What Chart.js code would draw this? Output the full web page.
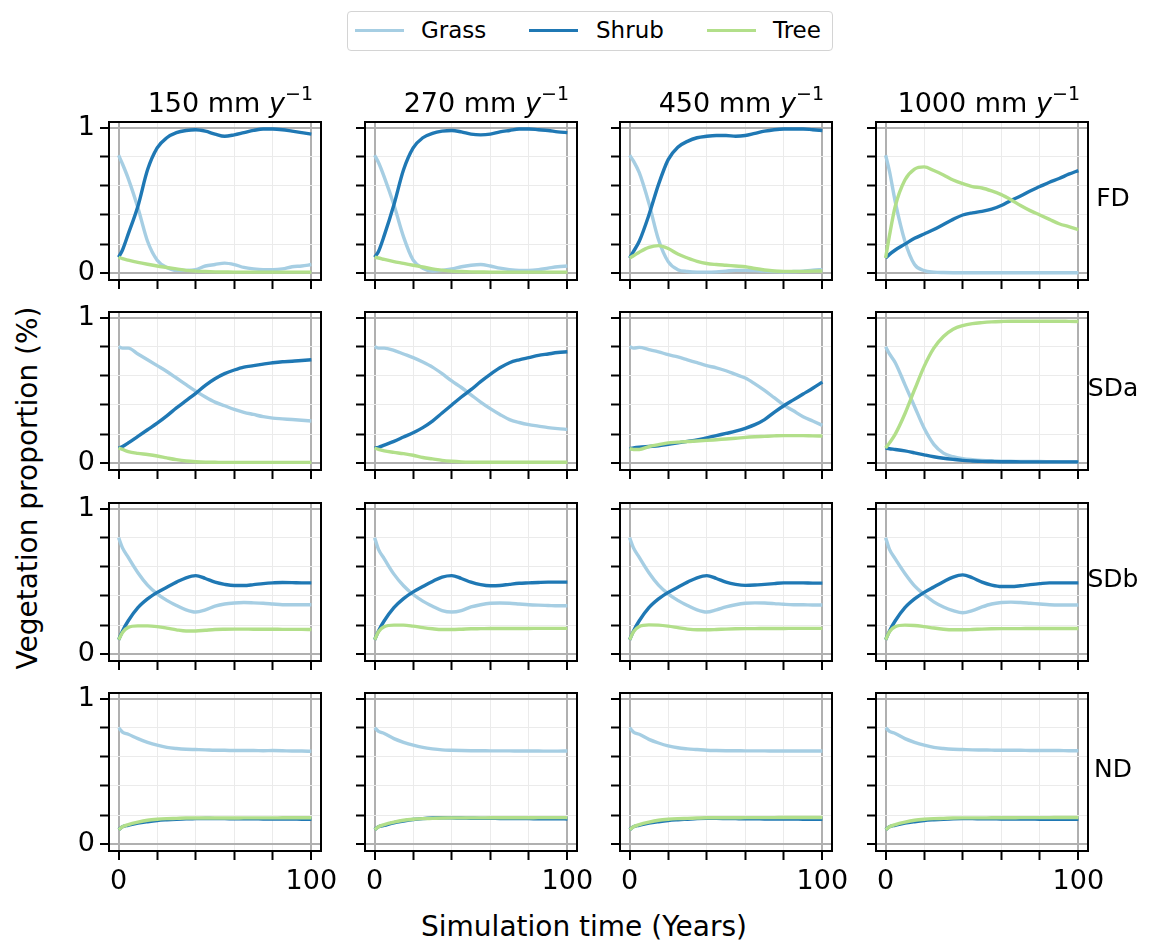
<!DOCTYPE html>
<html>
<head>
<meta charset="utf-8">
<script src="https://cdn.jsdelivr.net/npm/chart.js@4.4.0/dist/chart.umd.min.js"></script>
<style>
  body { margin: 0; background: #fff; font-family: "DejaVu Sans", sans-serif; }
  #fig { position: relative; width: 1169px; height: 944px; overflow: hidden; background: #fff; }
  #fig canvas { position: absolute; }
  .txt { position: absolute; color: #000; font-size: 27px; line-height: 27px; white-space: nowrap; }
  .axlabel { font-size: 28px; line-height: 28px; }
  .rowlab { font-size: 25px; line-height: 25px; }
  .title { text-align: right; }
  .title sup { font-size: 19px; vertical-align: 0; position: relative; top: -12px; }
  #legend { position: absolute; left: 347px; top: 11px; width: 484px; height: 38px;
            border: 1.5px solid #d4d4d4; border-radius: 4px; background: #fff; }
  .swatch { position: absolute; height: 3.5px; width: 49px; top: 16.5px; }
  .legtxt { position: absolute; top: 6px; font-size: 23px; line-height: 24px; }
</style>
</head>
<body>
<div id="fig">
  <div id="legend"></div>
  <div class="txt axlabel" style="left:28px; top:488px; transform: translate(-50%,-50%) rotate(-90deg);">Vegetation proportion (%)</div>
  <div class="txt axlabel" style="left:584px; top:927px; transform: translate(-50%,-50%);">Simulation time (Years)</div>
</div>
<script>
const years = [0, 2, 5, 10, 15, 20, 25, 30, 35, 40, 45, 50, 55, 60, 65, 70, 75, 80, 85, 90, 95, 100];
const rainfall = ['150', '270', '450', '1000'];
const scenarios = ['FD', 'SDa', 'SDb', 'ND'];
const vegTypes = ['Grass', 'Shrub', 'Tree'];
const vegColors = ['#a6cee3', '#1f78b4', '#b2df8a'];
const xTicks = [0, 20, 40, 60, 80, 100];
const yTicks = [0, 0.2, 0.4, 0.6, 0.8, 1];

// one row per rainfall level (150, 270, 450, 1000)
const grassFD = [
  [0.81, 0.75, 0.65, 0.45, 0.22, 0.09, 0.04, 0.02, 0.02, 0.025, 0.05, 0.06, 0.07, 0.06, 0.04, 0.03, 0.025, 0.025, 0.03, 0.045, 0.05, 0.06],
  [0.81, 0.76, 0.66, 0.47, 0.25, 0.09, 0.035, 0.015, 0.02, 0.03, 0.045, 0.055, 0.06, 0.05, 0.035, 0.025, 0.02, 0.02, 0.025, 0.035, 0.045, 0.05],
  [0.81, 0.77, 0.69, 0.48, 0.23, 0.08, 0.025, 0.012, 0.008, 0.008, 0.01, 0.015, 0.02, 0.02, 0.018, 0.015, 0.012, 0.01, 0.012, 0.015, 0.022, 0.025],
  [0.81, 0.70, 0.49, 0.22, 0.06, 0.018, 0.008, 0.005, 0.004, 0.004, 0.004, 0.004, 0.004, 0.004, 0.004, 0.004, 0.004, 0.004, 0.004, 0.004, 0.004, 0.004]
];
const shrubFD = [
  [0.11, 0.16, 0.27, 0.46, 0.71, 0.86, 0.93, 0.965, 0.98, 0.985, 0.975, 0.955, 0.94, 0.95, 0.965, 0.98, 0.99, 0.99, 0.985, 0.975, 0.965, 0.955],
  [0.11, 0.15, 0.26, 0.47, 0.71, 0.86, 0.93, 0.96, 0.975, 0.98, 0.97, 0.955, 0.95, 0.955, 0.97, 0.98, 0.99, 0.99, 0.985, 0.98, 0.97, 0.965],
  [0.105, 0.15, 0.22, 0.40, 0.61, 0.78, 0.865, 0.905, 0.93, 0.94, 0.945, 0.945, 0.94, 0.945, 0.96, 0.975, 0.985, 0.99, 0.99, 0.99, 0.985, 0.98],
  [0.105, 0.13, 0.16, 0.20, 0.24, 0.27, 0.30, 0.335, 0.37, 0.40, 0.415, 0.425, 0.44, 0.465, 0.50, 0.53, 0.565, 0.595, 0.625, 0.65, 0.68, 0.705]
];
const treeFD = [
  [0.11, 0.10, 0.09, 0.075, 0.062, 0.05, 0.04, 0.03, 0.02, 0.015, 0.012, 0.01, 0.009, 0.008, 0.008, 0.008, 0.008, 0.008, 0.008, 0.008, 0.008, 0.008],
  [0.11, 0.105, 0.095, 0.08, 0.068, 0.055, 0.043, 0.03, 0.022, 0.015, 0.012, 0.01, 0.009, 0.008, 0.008, 0.008, 0.008, 0.008, 0.008, 0.008, 0.008, 0.008],
  [0.105, 0.12, 0.145, 0.178, 0.19, 0.17, 0.132, 0.105, 0.082, 0.067, 0.06, 0.055, 0.05, 0.045, 0.033, 0.023, 0.016, 0.013, 0.013, 0.013, 0.015, 0.016],
  [0.105, 0.26, 0.46, 0.64, 0.715, 0.73, 0.705, 0.675, 0.64, 0.615, 0.595, 0.585, 0.565, 0.54, 0.505, 0.465, 0.43, 0.40, 0.37, 0.34, 0.32, 0.30]
];

const grassSDa = [
  [0.80, 0.79, 0.79, 0.75, 0.71, 0.67, 0.63, 0.585, 0.54, 0.495, 0.455, 0.42, 0.395, 0.37, 0.35, 0.335, 0.32, 0.31, 0.305, 0.30, 0.295, 0.29],
  [0.80, 0.79, 0.79, 0.775, 0.75, 0.725, 0.695, 0.66, 0.615, 0.565, 0.52, 0.47, 0.42, 0.375, 0.335, 0.30, 0.28, 0.265, 0.255, 0.245, 0.238, 0.233],
  [0.80, 0.79, 0.795, 0.78, 0.765, 0.745, 0.73, 0.71, 0.69, 0.67, 0.655, 0.635, 0.61, 0.585, 0.545, 0.50, 0.45, 0.40, 0.36, 0.32, 0.29, 0.26],
  [0.80, 0.75, 0.69, 0.54, 0.39, 0.24, 0.13, 0.07, 0.045, 0.032, 0.025, 0.02, 0.017, 0.015, 0.014, 0.013, 0.012, 0.012, 0.011, 0.01, 0.01, 0.01]
];
const shrubSDa = [
  [0.105, 0.115, 0.14, 0.185, 0.23, 0.275, 0.325, 0.38, 0.43, 0.48, 0.535, 0.58, 0.615, 0.64, 0.66, 0.67, 0.68, 0.69, 0.697, 0.70, 0.705, 0.71],
  [0.105, 0.11, 0.125, 0.15, 0.18, 0.21, 0.245, 0.29, 0.345, 0.40, 0.455, 0.505, 0.56, 0.61, 0.655, 0.69, 0.71, 0.725, 0.74, 0.75, 0.76, 0.765],
  [0.10, 0.105, 0.11, 0.115, 0.12, 0.13, 0.14, 0.15, 0.16, 0.175, 0.19, 0.205, 0.22, 0.24, 0.265, 0.30, 0.35, 0.395, 0.435, 0.475, 0.515, 0.557],
  [0.105, 0.10, 0.095, 0.085, 0.072, 0.058, 0.045, 0.035, 0.027, 0.02, 0.016, 0.013, 0.012, 0.011, 0.011, 0.01, 0.01, 0.01, 0.01, 0.01, 0.01, 0.01]
];
const treeSDa = [
  [0.105, 0.095, 0.08, 0.068, 0.06, 0.05, 0.037, 0.025, 0.016, 0.011, 0.008, 0.007, 0.006, 0.006, 0.006, 0.006, 0.006, 0.006, 0.006, 0.006, 0.006, 0.006],
  [0.105, 0.095, 0.085, 0.075, 0.066, 0.055, 0.04, 0.03, 0.02, 0.014, 0.01, 0.008, 0.007, 0.007, 0.007, 0.007, 0.007, 0.007, 0.007, 0.007, 0.007, 0.007],
  [0.10, 0.095, 0.095, 0.115, 0.128, 0.14, 0.145, 0.15, 0.153, 0.157, 0.162, 0.167, 0.172, 0.178, 0.182, 0.185, 0.188, 0.19, 0.19, 0.19, 0.188, 0.187],
  [0.105, 0.14, 0.20, 0.34, 0.505, 0.665, 0.79, 0.87, 0.92, 0.945, 0.958, 0.965, 0.97, 0.973, 0.975, 0.975, 0.975, 0.975, 0.975, 0.975, 0.974, 0.973]
];

const grassSDb = [
  [0.80, 0.73, 0.665, 0.56, 0.475, 0.415, 0.37, 0.335, 0.305, 0.29, 0.305, 0.33, 0.345, 0.352, 0.355, 0.353, 0.35, 0.345, 0.34, 0.34, 0.34, 0.34],
  [0.80, 0.72, 0.655, 0.55, 0.47, 0.41, 0.365, 0.33, 0.30, 0.29, 0.30, 0.325, 0.34, 0.35, 0.352, 0.35, 0.345, 0.34, 0.337, 0.335, 0.333, 0.333],
  [0.80, 0.73, 0.665, 0.56, 0.475, 0.415, 0.37, 0.335, 0.305, 0.29, 0.305, 0.325, 0.34, 0.35, 0.353, 0.352, 0.348, 0.343, 0.34, 0.34, 0.338, 0.338],
  [0.80, 0.72, 0.655, 0.555, 0.47, 0.41, 0.36, 0.325, 0.30, 0.285, 0.30, 0.325, 0.345, 0.355, 0.358, 0.355, 0.35, 0.345, 0.34, 0.338, 0.338, 0.338]
];
const shrubSDb = [
  [0.10, 0.16, 0.23, 0.32, 0.38, 0.425, 0.46, 0.495, 0.525, 0.54, 0.52, 0.495, 0.48, 0.472, 0.472, 0.478, 0.485, 0.49, 0.493, 0.492, 0.49, 0.49],
  [0.10, 0.16, 0.23, 0.32, 0.382, 0.428, 0.465, 0.50, 0.53, 0.54, 0.52, 0.495, 0.478, 0.47, 0.472, 0.48, 0.487, 0.49, 0.493, 0.495, 0.495, 0.495],
  [0.10, 0.16, 0.23, 0.32, 0.38, 0.425, 0.46, 0.495, 0.525, 0.54, 0.52, 0.495, 0.48, 0.473, 0.475, 0.48, 0.485, 0.49, 0.49, 0.49, 0.488, 0.488],
  [0.10, 0.16, 0.23, 0.32, 0.38, 0.425, 0.462, 0.498, 0.53, 0.545, 0.525, 0.495, 0.475, 0.465, 0.465, 0.47, 0.478, 0.485, 0.49, 0.49, 0.49, 0.49]
];
const treeSDb = [
  [0.10, 0.15, 0.185, 0.195, 0.195, 0.19, 0.18, 0.168, 0.16, 0.16, 0.165, 0.17, 0.172, 0.173, 0.173, 0.172, 0.172, 0.172, 0.171, 0.171, 0.171, 0.17],
  [0.10, 0.155, 0.19, 0.20, 0.2, 0.193, 0.183, 0.175, 0.17, 0.17, 0.172, 0.175, 0.176, 0.177, 0.177, 0.177, 0.177, 0.177, 0.178, 0.178, 0.178, 0.178],
  [0.10, 0.155, 0.19, 0.202, 0.2, 0.193, 0.183, 0.173, 0.168, 0.168, 0.17, 0.173, 0.175, 0.176, 0.176, 0.177, 0.177, 0.177, 0.178, 0.178, 0.178, 0.178],
  [0.10, 0.155, 0.19, 0.2, 0.198, 0.19, 0.18, 0.172, 0.168, 0.168, 0.17, 0.173, 0.175, 0.176, 0.176, 0.176, 0.177, 0.177, 0.177, 0.177, 0.177, 0.177]
];

const grassND = [
  [0.80, 0.77, 0.755, 0.725, 0.70, 0.68, 0.665, 0.657, 0.652, 0.65, 0.648, 0.645, 0.645, 0.643, 0.643, 0.643, 0.642, 0.643, 0.642, 0.64, 0.64, 0.638],
  [0.80, 0.775, 0.76, 0.725, 0.70, 0.68, 0.665, 0.655, 0.648, 0.645, 0.643, 0.642, 0.642, 0.641, 0.641, 0.641, 0.64, 0.64, 0.64, 0.639, 0.639, 0.64],
  [0.80, 0.77, 0.755, 0.72, 0.695, 0.675, 0.662, 0.655, 0.65, 0.645, 0.643, 0.642, 0.642, 0.641, 0.641, 0.641, 0.64, 0.64, 0.64, 0.64, 0.64, 0.64],
  [0.80, 0.775, 0.76, 0.725, 0.70, 0.68, 0.665, 0.657, 0.652, 0.65, 0.648, 0.647, 0.646, 0.645, 0.645, 0.645, 0.644, 0.644, 0.643, 0.643, 0.642, 0.642]
];
const shrubND = [
  [0.10, 0.12, 0.13, 0.145, 0.155, 0.163, 0.168, 0.172, 0.175, 0.176, 0.177, 0.176, 0.176, 0.175, 0.175, 0.175, 0.174, 0.174, 0.173, 0.173, 0.172, 0.172],
  [0.10, 0.12, 0.13, 0.148, 0.16, 0.17, 0.176, 0.18, 0.182, 0.181, 0.18, 0.179, 0.178, 0.178, 0.177, 0.177, 0.176, 0.176, 0.175, 0.175, 0.175, 0.174],
  [0.10, 0.12, 0.13, 0.145, 0.155, 0.163, 0.168, 0.172, 0.176, 0.178, 0.178, 0.177, 0.176, 0.175, 0.175, 0.174, 0.174, 0.173, 0.173, 0.172, 0.172, 0.172],
  [0.10, 0.12, 0.13, 0.145, 0.155, 0.163, 0.168, 0.172, 0.175, 0.176, 0.176, 0.175, 0.175, 0.174, 0.174, 0.173, 0.173, 0.172, 0.172, 0.171, 0.171, 0.171]
];
const treeND = [
  [0.10, 0.12, 0.135, 0.152, 0.165, 0.172, 0.176, 0.178, 0.18, 0.18, 0.18, 0.18, 0.18, 0.18, 0.181, 0.181, 0.181, 0.181, 0.182, 0.182, 0.182, 0.182],
  [0.10, 0.12, 0.135, 0.152, 0.165, 0.172, 0.176, 0.178, 0.18, 0.181, 0.181, 0.181, 0.181, 0.182, 0.182, 0.182, 0.182, 0.182, 0.183, 0.183, 0.183, 0.183],
  [0.10, 0.12, 0.135, 0.152, 0.165, 0.172, 0.176, 0.178, 0.18, 0.182, 0.182, 0.182, 0.182, 0.183, 0.183, 0.183, 0.183, 0.184, 0.184, 0.184, 0.184, 0.184],
  [0.10, 0.12, 0.135, 0.152, 0.165, 0.172, 0.176, 0.178, 0.18, 0.181, 0.181, 0.181, 0.182, 0.182, 0.182, 0.183, 0.183, 0.183, 0.183, 0.184, 0.184, 0.184]
];

const scenarioData = {
  FD: [grassFD, shrubFD, treeFD],
  SDa: [grassSDa, shrubSDa, treeSDa],
  SDb: [grassSDb, shrubSDb, treeSDb],
  ND: [grassND, shrubND, treeND]
};

// panel grid geometry (plot area of each subplot)
const panelLeft = [109, 365, 620, 876];
const panelTop = [122, 312, 503, 693];
const panelW = 212, panelH = 158;
const padL = 60, padT = 12, padR = 30, padB = 52;
const tickFont = { family: 'DejaVu Sans', size: 27 };

const fig = document.getElementById('fig');

// black frame round each plot area, drawn over the lines
const framePlugin = {
  id: 'frame',
  afterDatasetsDraw(chart) {
    const { ctx, chartArea: a } = chart;
    ctx.save();
    ctx.strokeStyle = '#000';
    ctx.lineWidth = 2;
    ctx.strokeRect(a.left, a.top, a.right - a.left, a.bottom - a.top);
    ctx.restore();
  }
};

function gridColor(ctx, lo, hi) {
  const v = ctx.tick.value;
  return (v === lo || v === hi) ? '#b0b0b0' : '#ebebeb';
}
function gridWidth(ctx, lo, hi) {
  const v = ctx.tick.value;
  return (v === lo || v === hi) ? 2 : 1;
}

function makePanel(row, col) {
  const canvas = document.createElement('canvas');
  const w = padL + panelW + padR, h = padT + panelH + padB;
  canvas.width = w; canvas.height = h;
  canvas.style.width = w + 'px'; canvas.style.height = h + 'px';
  canvas.style.left = (panelLeft[col] - padL) + 'px';
  canvas.style.top = (panelTop[row] - padT) + 'px';
  fig.appendChild(canvas);

  const series = scenarioData[scenarios[row]];
  const datasets = vegTypes.map((name, k) => ({
    label: name,
    data: years.map((x, i) => ({ x: x, y: series[k][col][i] })),
    borderColor: vegColors[k],
    borderWidth: 3.4,
    pointRadius: 0,
    fill: false,
    cubicInterpolationMode: 'monotone',
    order: 2 - k
  }));

  const showX = row === scenarios.length - 1;
  const showY = col === 0;

  new Chart(canvas.getContext('2d'), {
    type: 'line',
    data: { datasets: datasets },
    options: {
      responsive: false,
      animation: false,
      events: [],
      layout: { padding: { top: padT, right: padR, left: 0, bottom: 0 } },
      plugins: { legend: { display: false }, tooltip: { enabled: false } },
      scales: {
        x: {
          type: 'linear', min: -5, max: 105,
          afterBuildTicks: s => { s.ticks = xTicks.map(v => ({ value: v })); },
          afterFit: s => { s.height = padB; s.paddingLeft = 0; s.paddingRight = 0; },
          border: { display: false },
          grid: {
            color: c => gridColor(c, 0, 100),
            lineWidth: c => gridWidth(c, 0, 100),
            tickLength: 9, tickWidth: 2, tickColor: '#000'
          },
          ticks: {
            autoSkip: false, maxRotation: 0, padding: 6, color: '#000', font: tickFont,
            callback: v => (showX && (v === 0 || v === 100)) ? String(v) : ''
          }
        },
        y: {
          min: -0.046, max: 1.038,
          afterBuildTicks: s => { s.ticks = yTicks.map(v => ({ value: v })); },
          afterFit: s => { s.width = padL; s.paddingTop = 0; s.paddingBottom = 0; },
          border: { display: false },
          grid: {
            color: c => gridColor(c, 0, 1),
            lineWidth: c => gridWidth(c, 0, 1),
            tickLength: 9, tickWidth: 2, tickColor: '#000'
          },
          ticks: {
            autoSkip: false, padding: 5, color: '#000', font: tickFont,
            callback: v => (showY && (v === 0 || v === 1)) ? String(v) : ''
          }
        }
      }
    },
    plugins: [framePlugin]
  });
}

for (let r = 0; r < scenarios.length; r++) {
  for (let c = 0; c < rainfall.length; c++) makePanel(r, c);
}

// column titles and row labels
rainfall.forEach((rf, c) => {
  const d = document.createElement('div');
  d.className = 'txt title';
  d.style.left = (panelLeft[c] - 60) + 'px';
  d.style.width = (panelW + 60 - 8) + 'px';
  d.style.top = '89px';
  d.innerHTML = rf + ' mm <i>y</i><sup>\u22121</sup>';
  fig.appendChild(d);
});
scenarios.forEach((sc, r) => {
  const d = document.createElement('div');
  d.className = 'txt rowlab';
  d.style.left = '1113px';
  d.style.top = (panelTop[r] + panelH / 2 - 4) + 'px';
  d.style.transform = 'translate(-50%,-50%)';
  d.textContent = sc;
  fig.appendChild(d);
});

// legend
const legend = document.getElementById('legend');
const swatchX = [7, 181, 359];
const textX = [73, 248, 425];
vegTypes.forEach((name, k) => {
  const s = document.createElement('div');
  s.className = 'swatch';
  s.style.left = swatchX[k] + 'px';
  s.style.background = vegColors[k];
  legend.appendChild(s);
  const t = document.createElement('div');
  t.className = 'legtxt';
  t.style.left = textX[k] + 'px';
  t.textContent = name;
  legend.appendChild(t);
});
</script>
</body>
</html>
